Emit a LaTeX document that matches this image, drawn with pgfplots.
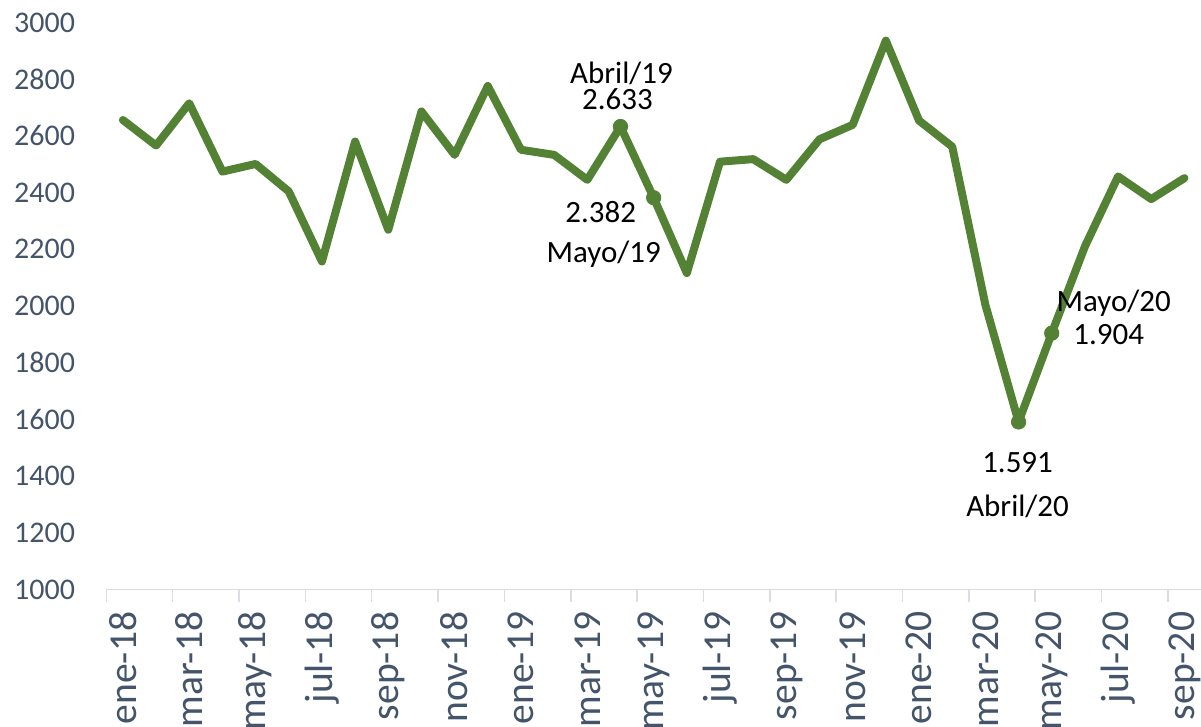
\documentclass[border=0pt]{standalone}
\usepackage{pgfplots}
\pgfplotsset{compat=1.18}
\usepackage{fontspec}
\setmainfont{Carlito}
\definecolor{LineGreen}{HTML}{548235}
\definecolor{TickText}{HTML}{44546A}
\definecolor{AxisGray}{HTML}{D9DEE6}

\begin{document}
\begin{tikzpicture}
\begin{axis}[
  scale only axis,
  width=547.8pt, height=283.75pt,
  xmin=-0.5, xmax=32.5,
  ymin=1000, ymax=3000,
  axis lines*=left,
  y axis line style={draw=none},
  x axis line style={draw=AxisGray, line width=0.8pt},
  xtick={0,2,...,32},
  xticklabels={ene-18,mar-18,may-18,jul-18,sep-18,nov-18,ene-19,mar-19,may-19,jul-19,sep-19,nov-19,ene-20,mar-20,may-20,jul-20,sep-20},
  minor xtick={-0.5,1.5,...,31.5},
  major tick length=0pt,
  minor tick length=6pt,
  tick align=outside,
  minor tick style={draw=AxisGray, line width=0.8pt},
  xticklabel style={rotate=90, anchor=east, inner sep=0pt, font=\fontsize{19.8}{21}\selectfont, text=TickText},
  xticklabel shift=11pt,
  ytick={1000,1200,...,3000},
  yticklabel style={anchor=east, inner sep=0pt, xshift=-15.5pt, font=\fontsize{15}{17}\selectfont, text=TickText},
  /pgf/number format/assume math mode=true,
  /pgf/number format/1000 sep={},
  clip=false,
]
\addplot[LineGreen, line width=4pt, line join=round, line cap=round, mark=none]
  coordinates {
    (0,2656) (1,2566) (2,2715) (3,2474) (4,2501) (5,2404) (6,2157) (7,2580)
    (8,2269) (9,2686) (10,2533) (11,2776) (12,2551) (13,2533) (14,2445) (15,2633)
    (16,2382) (17,2116) (18,2509) (19,2518) (20,2445) (21,2588) (22,2639) (23,2936)
    (24,2654) (25,2562) (26,2004) (27,1591) (28,1904) (29,2210) (30,2457) (31,2377)
    (32,2451)
  };
\addplot[only marks, mark=*, mark size=3.6pt, color=LineGreen]
  coordinates {(15,2633) (16,2382) (27,1591) (28,1904)};
\begin{scope}[font=\fontsize{15.5}{17}\selectfont, inner sep=0pt]
\node at (axis cs:15,2633) [xshift=0.5pt, yshift=26.5pt] {Abril/19};
\node at (axis cs:15,2633) [xshift=-1.5pt, yshift=13.6pt] {2.633};
\node at (axis cs:16,2382) [xshift=-26.5pt, yshift=-7.3pt] {2.382};
\node at (axis cs:16,2382) [xshift=-25pt, yshift=-28.5pt] {Mayo/19};
\node at (axis cs:27,1591) [xshift=-0.5pt, yshift=-20.2pt] {1.591};
\node at (axis cs:27,1591) [xshift=-0.5pt, yshift=-42.5pt] {Abril/20};
\node at (axis cs:28,1904) [xshift=31pt, yshift=15pt] {Mayo/20};
\node at (axis cs:28,1904) [xshift=28.5pt, yshift=-0.8pt] {1.904};
\end{scope}
\coordinate (sw) at (rel axis cs:0,0);
\coordinate (ne) at (rel axis cs:1,1);
\end{axis}
\pgfresetboundingbox
\path ([shift={(-53.2pt,-68.5pt)}]sw) rectangle ([shift={(0pt,11.25pt)}]ne);
\end{tikzpicture}
\end{document}
